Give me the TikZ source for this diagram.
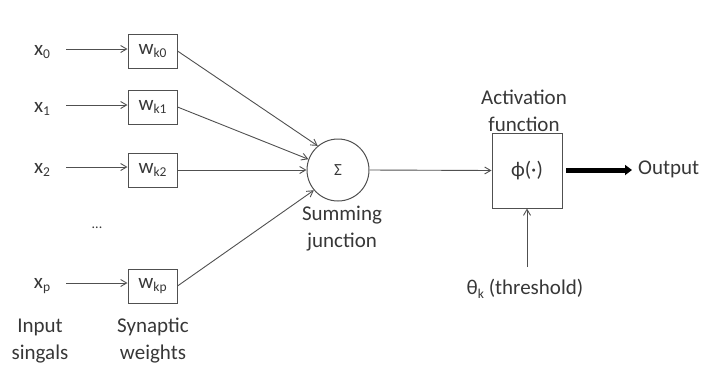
\documentclass[tikz,border=0pt]{standalone}
\usepackage{fontspec}
\setmainfont{Carlito}
\usetikzlibrary{arrows.meta}
\definecolor{ink}{RGB}{55,55,55}
\definecolor{edge}{RGB}{80,80,80}
\newcommand{\sub}[1]{\raisebox{-0.35ex}{\fontsize{13.5}{13.5}\selectfont #1}}
\tikzset{
  lbl/.style={text=ink, font=\fontsize{21}{27}\selectfont, inner sep=0pt, align=center},
  wbox/.style={draw=edge, line width=1pt, minimum width=49pt, minimum height=34pt, inner sep=0pt, text=ink, font=\fontsize{21}{24}\selectfont},
  feed/.style={draw=edge, line width=0.9pt, -{Straight Barb[length=6pt,width=7pt]}},
  heavy/.style={draw=black, line width=5pt, -{Triangle[length=7pt,width=10pt]}}
}
\begin{document}
\begin{tikzpicture}[x=1pt,y=-1pt]
\useasboundingbox (0,0) rectangle (705,365);

% input signals
\node[lbl] (x0) at (42,52) {x\sub{0}};
\node[lbl] (x1) at (42,109) {x\sub{1}};
\node[lbl] (x2) at (42,170) {x\sub{2}};
\node[lbl] (dots) at (97,228) {\fontsize{14}{14}\selectfont ...};
\node[lbl] (xp) at (42,286) {x\sub{p}};

% synaptic weights
\node[wbox] (w0) at (152.5,51) {w\sub{k0}};
\node[wbox] (w1) at (152.5,107) {w\sub{k1}};
\node[wbox] (w2) at (152.5,170) {w\sub{k2}};
\node[wbox] (wp) at (152.5,286) {w\sub{kp}};

\coordinate (a0) at (66,49);
\coordinate (a1) at (66,105);
\coordinate (a2) at (66,167);
\coordinate (ap) at (66,283);
\draw[feed] (a0) -- (a0 -| w0.west);
\draw[feed] (a1) -- (a1 -| w1.west);
\draw[feed] (a2) -- (a2 -| w2.west);
\draw[feed] (ap) -- (ap -| wp.west);

% summing junction
\node[draw=edge, line width=1pt, circle, minimum size=62pt, inner sep=0pt, text=ink, font=\fontsize{17}{17}\selectfont] (sum) at (338,170) {Σ};
\draw[feed] (w0.east) -- (sum.130);
\draw[feed] (w1.east) -- (sum.160);
\draw[feed] (w2.east) -- (sum.west);
\draw[feed] (wp.east) -- (sum.220);

% activation function
\node[draw=edge, line width=1pt, minimum width=70pt, minimum height=75pt, inner sep=0pt, text=ink, font=\fontsize{21}{24}\selectfont] (act) at (527,170.5) {ϕ(·)};
\draw[feed] (sum.east) -- (act.west);

% output
\node[lbl, anchor=west] (out) at (638,169) {Output};
\coordinate (o0) at (566,170);
\coordinate (o1) at (632,170);
\draw[heavy] (o0) -- (o1);

% threshold
\node[lbl] (theta) at (525,289) {θ\sub{k} (threshold)};
\coordinate (t0) at (527,267);
\draw[feed] (t0) -- (act.south);

% captions
\node[lbl] (actlbl) at (524,111) {Activation\\function};
\node[lbl] (sumlbl) at (342,229) {Summing\\junction};
\node[lbl] (inlbl) at (40,341) {Input\\singals};
\node[lbl] (wlbl) at (153,341) {Synaptic\\weights};
\end{tikzpicture}
\end{document}
